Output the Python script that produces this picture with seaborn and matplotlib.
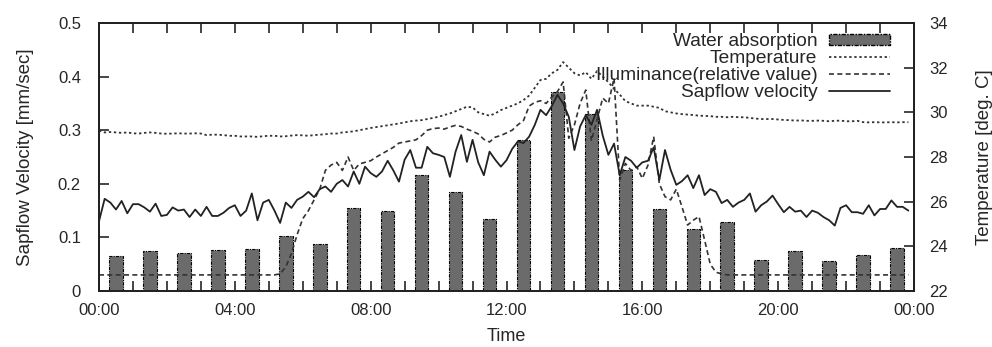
import numpy as np
import pandas as pd
import seaborn as sns
import matplotlib.pyplot as plt
from matplotlib.patches import Patch
from matplotlib.lines import Line2D

# === DATA ===
# hourly water absorption bars (centred at hh:30)
bar_hours = [h + 0.5 for h in range(24)]
water_absorption = [0.065, 0.075, 0.070, 0.076, 0.079, 0.102, 0.088, 0.155,
                    0.149, 0.217, 0.184, 0.134, 0.281, 0.371, 0.330, 0.225,
                    0.153, 0.116, 0.129, 0.058, 0.075, 0.056, 0.068, 0.081]

# 10-minute samples, one row per hour
sapflow = [
    0.130, 0.172, 0.165, 0.152, 0.168, 0.145,
    0.162, 0.162, 0.156, 0.148, 0.163, 0.140,
    0.142, 0.156, 0.150, 0.152, 0.138, 0.152,
    0.140, 0.157, 0.140, 0.140, 0.146, 0.155,
    0.160, 0.140, 0.150, 0.182, 0.132, 0.165,
    0.170, 0.150, 0.127, 0.165, 0.155, 0.170,
    0.176, 0.185, 0.175, 0.190, 0.195, 0.185,
    0.200, 0.207, 0.195, 0.223, 0.200, 0.232,
    0.220, 0.213, 0.223, 0.243, 0.225, 0.204,
    0.245, 0.263, 0.230, 0.230, 0.269, 0.257,
    0.254, 0.250, 0.213, 0.260, 0.291, 0.241,
    0.282, 0.240, 0.216, 0.260, 0.245, 0.232,
    0.244, 0.265, 0.279, 0.276, 0.288, 0.310,
    0.338, 0.328, 0.345, 0.366, 0.350, 0.325,
    0.263, 0.307, 0.328, 0.310, 0.338, 0.290,
    0.254, 0.275, 0.216, 0.250, 0.243, 0.230,
    0.240, 0.243, 0.268, 0.207, 0.263, 0.226,
    0.198, 0.205, 0.216, 0.192, 0.216, 0.179,
    0.190, 0.185, 0.164, 0.170, 0.157, 0.165,
    0.170, 0.182, 0.148, 0.160, 0.167, 0.178,
    0.162, 0.147, 0.157, 0.148, 0.150, 0.138,
    0.150, 0.146, 0.138, 0.132, 0.122, 0.155,
    0.160, 0.147, 0.147, 0.144, 0.160, 0.141,
    0.153, 0.153, 0.169, 0.157, 0.157, 0.150,
]

temperature = [
    29.18, 29.10, 29.12, 29.10, 29.08, 29.10,
    29.06, 29.05, 29.08, 29.10, 29.08, 29.05,
    29.04, 29.05, 29.06, 29.05, 29.05, 29.06,
    29.05, 28.98, 29.00, 29.00, 28.98, 28.95,
    28.95, 28.92, 28.92, 28.92, 28.90, 28.93,
    28.95, 28.95, 28.92, 28.93, 28.96, 28.98,
    28.97, 28.95, 28.98, 29.00, 29.02, 29.05,
    29.05, 29.10, 29.12, 29.15, 29.20, 29.25,
    29.30, 29.34, 29.38, 29.42, 29.46, 29.50,
    29.55, 29.60, 29.63, 29.65, 29.70, 29.75,
    29.80, 29.88, 29.95, 30.05, 30.15, 30.25,
    30.22, 30.00, 29.92, 29.85, 29.95, 30.10,
    30.20, 30.30, 30.40, 30.55, 30.75, 31.10,
    31.45, 31.50, 31.75, 31.90, 32.25, 32.00,
    31.75, 31.65, 31.80, 31.50, 31.85, 31.60,
    31.35, 31.05, 30.80, 30.50, 30.40, 30.30,
    30.30, 30.30, 30.25, 30.20, 30.05, 30.00,
    29.95, 29.92, 29.90, 29.88, 29.85, 29.84,
    29.83, 29.80, 29.80, 29.78, 29.80, 29.78,
    29.78, 29.75, 29.72, 29.70, 29.70, 29.70,
    29.68, 29.66, 29.65, 29.63, 29.64, 29.62,
    29.62, 29.63, 29.62, 29.60, 29.62, 29.63,
    29.60, 29.60, 29.62, 29.56, 29.55, 29.56,
    29.55, 29.55, 29.56, 29.55, 29.56, 29.56,
]

illuminance = [
    0.030, 0.030, 0.030, 0.030, 0.030, 0.030,
    0.030, 0.030, 0.030, 0.030, 0.030, 0.030,
    0.030, 0.030, 0.030, 0.030, 0.030, 0.030,
    0.030, 0.030, 0.030, 0.030, 0.030, 0.030,
    0.030, 0.030, 0.030, 0.030, 0.030, 0.030,
    0.030, 0.030, 0.032, 0.045, 0.070, 0.105,
    0.135, 0.150, 0.170, 0.190, 0.225, 0.235,
    0.240, 0.225, 0.250, 0.225, 0.237, 0.240,
    0.243, 0.250, 0.256, 0.262, 0.268, 0.276,
    0.278, 0.280, 0.282, 0.290, 0.300, 0.303,
    0.304, 0.302, 0.306, 0.309, 0.307, 0.302,
    0.298, 0.293, 0.283, 0.278, 0.287, 0.290,
    0.295, 0.300, 0.310, 0.318, 0.345, 0.352,
    0.355, 0.350, 0.362, 0.372, 0.390, 0.285,
    0.310, 0.350, 0.375, 0.280, 0.320, 0.360,
    0.350, 0.397, 0.207, 0.238, 0.225, 0.232,
    0.210, 0.235, 0.288, 0.200, 0.176, 0.170,
    0.190, 0.157, 0.123, 0.132, 0.139, 0.095,
    0.050, 0.035, 0.032, 0.030, 0.030, 0.030,
    0.030, 0.030, 0.030, 0.030, 0.030, 0.030,
    0.030, 0.030, 0.030, 0.030, 0.030, 0.030,
    0.030, 0.030, 0.030, 0.030, 0.030, 0.030,
    0.030, 0.030, 0.030, 0.030, 0.030, 0.030,
    0.030, 0.030, 0.030, 0.030, 0.030, 0.030,
]

hour_ticks = [0, 4, 8, 12, 16, 20, 24]
hour_labels = ["00:00", "04:00", "08:00", "12:00", "16:00", "20:00", "00:00"]

t = np.arange(len(sapflow)) / 6.0
df = pd.DataFrame({"t": t, "sap": sapflow, "temp": temperature, "illum": illuminance})
bars = pd.DataFrame({"h": bar_hours, "w": water_absorption})

# === STYLE ===
sns.set_style("ticks")
plt.rcParams["font.family"] = ["Liberation Sans", "DejaVu Sans"]
plt.rcParams["font.size"] = 12

fig = plt.figure(figsize=(9.92, 3.47), dpi=100)
ax = fig.add_axes([0.0998, 0.1614, 0.8216, 0.7723])

TEMP_LS = (0, (1.3, 1.5))
ILLUM_LS = (0, (3, 2))
BAR_LS = (0, (3, 1, 1, 1))

sns.barplot(data=bars, x="h", y="w", native_scale=True, width=0.4,
            color="#6b6b6b", edgecolor="black", linewidth=0.8,
            linestyle=BAR_LS, saturation=1, ax=ax)
sns.lineplot(data=df, x="t", y="illum", color="#333333", linewidth=1.2,
             linestyle=ILLUM_LS, ax=ax)
sns.lineplot(data=df, x="t", y="sap", color="#222222", linewidth=1.3, ax=ax)

ax2 = ax.twinx()
sns.lineplot(data=df, x="t", y="temp", color="#333333", linewidth=1.3,
             linestyle=TEMP_LS, ax=ax2)

ax.set_xlim(0, 24)
ax.set_ylim(0, 0.5)
ax2.set_ylim(22, 34)
ax.set_xticks(hour_ticks)
ax.set_xticklabels(hour_labels)
ax.set_xticks(range(25), minor=True)
ax.set_yticks([0, 0.1, 0.2, 0.3, 0.4, 0.5])
ax.set_yticklabels(["0", "0.1", "0.2", "0.3", "0.4", "0.5"])
ax2.set_yticks([22, 24, 26, 28, 30, 32, 34])

ax.tick_params(axis="x", which="both", direction="in", top=True, length=7, width=1.2, pad=9)
ax.tick_params(axis="y", direction="in", length=7, width=1.2, pad=13)
ax2.tick_params(axis="y", direction="in", length=7, width=1.2, pad=11)
for a in (ax, ax2):
    for s in a.spines.values():
        s.set_visible(True)
        s.set_linewidth(1.4)
        s.set_color("#222222")

ax.set_xlabel("Time", fontsize=13, labelpad=7)
ax.set_ylabel("Sapflow Velocity [mm/sec]", fontsize=13.5, labelpad=17)
ax2.set_ylabel("Temperature [deg. C]", fontsize=13.5, labelpad=20)

handles = [
    Patch(facecolor="#6b6b6b", edgecolor="black", linestyle=BAR_LS),
    Line2D([], [], color="#333333", linewidth=1.3, linestyle=TEMP_LS),
    Line2D([], [], color="#333333", linewidth=1.2, linestyle=ILLUM_LS),
    Line2D([], [], color="#222222", linewidth=1.3),
]
labels = ["Water absorption", "Temperature", "Illuminance(relative value)", "Sapflow velocity"]
ax2.legend(handles, labels, loc="upper right", bbox_to_anchor=(0.985, 1.005),
           frameon=False, markerfirst=False, fontsize=13.8,
           handlelength=3.2, handleheight=0.55,
           labelspacing=0.0, handletextpad=0.6, borderaxespad=0.2)

fig.savefig("out.png", dpi=100)
